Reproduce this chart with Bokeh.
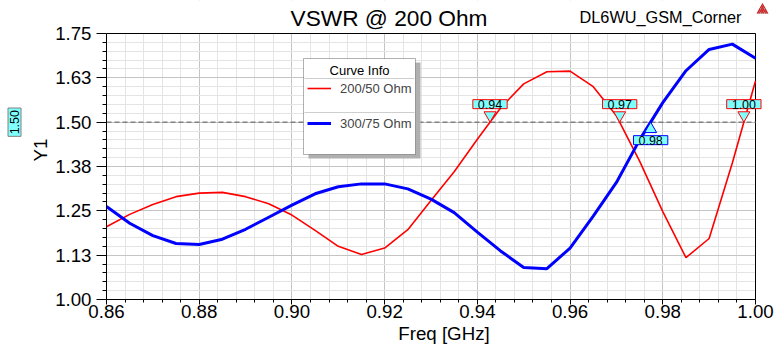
import math
from bokeh.plotting import figure
from bokeh.models import (FixedTicker, Label, Legend, LegendItem, BoxAnnotation)
from bokeh.embed import file_html
from bokeh.resources import INLINE

# ---------------- data ----------------
freq = [0.860, 0.865, 0.870, 0.875, 0.880, 0.885, 0.890, 0.895, 0.900, 0.905,
        0.910, 0.915, 0.920, 0.925, 0.930, 0.935, 0.940, 0.945, 0.950, 0.955,
        0.960, 0.965, 0.970, 0.975, 0.980, 0.985, 0.990, 0.995, 1.000]
vswr_200_50 = [1.205, 1.240, 1.268, 1.290, 1.300, 1.302, 1.290, 1.270, 1.238, 1.195,
               1.150, 1.127, 1.145, 1.197, 1.279, 1.360, 1.452, 1.540, 1.608, 1.642,
               1.644, 1.600, 1.518, 1.390, 1.248, 1.118, 1.172, 1.385, 1.616]
vswr_300_75 = [1.262, 1.215, 1.180, 1.158, 1.155, 1.170, 1.198, 1.232, 1.266, 1.298,
               1.318, 1.326, 1.326, 1.312, 1.283, 1.245, 1.190, 1.137, 1.090, 1.087,
               1.145, 1.235, 1.330, 1.450, 1.555, 1.645, 1.705, 1.720, 1.680]
series_names = ["200/50 Ohm", "300/75 Ohm"]
series_colors = ["#ff0000", "#0000ff"]
ref_level = 1.50

x_ticks = [0.86, 0.88, 0.90, 0.92, 0.94, 0.96, 0.98, 1.00]
x_tick_labels = ["0.86", "0.88", "0.90", "0.92", "0.94", "0.96", "0.98", "1.00"]
y_ticks = [1.0, 1.125, 1.25, 1.375, 1.5, 1.625, 1.75]
y_tick_labels = ["1.00", "1.13", "1.25", "1.38", "1.50", "1.63", "1.75"]

title_text = "VSWR @ 200 Ohm"
design_text = "DL6WU_GSM_Corner"
x_label = "Freq [GHz]"
y_label = "Y1"
legend_title = "Curve Info"

FONT = "Liberation Sans"
CYAN = "#80ffff"

# ---------------- layout (canvas pixels) ----------------
W, H = 781, 350
FL, FR, FT, FB = 106, 755, 33, 299          # visible plot box
x0, x1 = x_ticks[0], x_ticks[-1]
y0, y1 = y_ticks[0], y_ticks[-1]
px_per_x = (FR - FL) / (x1 - x0)
px_per_y = (FB - FT) / (y1 - y0)

def data_x(px):
    return x0 + (px - FL) / px_per_x

def data_y(py):
    return y0 + (FB - py) / px_per_y

# the Bokeh frame covers everything right of / above the axes, so texts
# placed outside the visible plot box are not clipped
fig = figure(width=W, height=H, output_backend="svg", toolbar_location=None,
             x_range=(x0, data_x(W)), y_range=(y0, data_y(0)),
             min_border_left=FL, min_border_right=0, min_border_top=0,
             min_border_bottom=H - FB)
fig.background_fill_color = "white"
fig.border_fill_color = "white"
fig.outline_line_color = None

x_minor = [round(x0 + 0.004 * i, 4) for i in range(36)]
y_minor = [round(y0 + 0.025 * i, 4) for i in range(31)]
fig.xaxis.ticker = FixedTicker(ticks=x_ticks, minor_ticks=x_minor)
fig.yaxis.ticker = FixedTicker(ticks=y_ticks, minor_ticks=y_minor)
fig.xaxis.major_label_overrides = {t: s for t, s in zip(x_ticks, x_tick_labels)}
fig.yaxis.major_label_overrides = {t: s for t, s in zip(y_ticks, y_tick_labels)}
fig.xaxis.bounds = (x0, x1)
fig.yaxis.bounds = (y0, y1)

for ax in (fig.xaxis, fig.yaxis):
    ax.axis_line_color = "black"
    ax.major_tick_line_color = "black"
    ax.minor_tick_line_color = "black"
    ax.major_tick_in = 0
    ax.minor_tick_in = 0
    ax.major_label_text_font = FONT
    ax.major_label_text_font_size = "18.7px"
    ax.major_label_text_color = "black"
    ax.axis_label_text_font = FONT
    ax.axis_label_text_font_size = "18.7px"
    ax.axis_label_text_font_style = "normal"
    ax.axis_label_text_color = "black"

fig.xaxis.axis_label = x_label
fig.yaxis.axis_label = y_label
fig.xaxis.major_tick_out = 5
fig.xaxis.minor_tick_out = 3
fig.xaxis.major_label_standoff = 0
fig.xaxis.axis_label_standoff = 2
fig.yaxis.major_tick_out = 10
fig.yaxis.minor_tick_out = 4
fig.yaxis.major_label_standoff = 5
fig.yaxis.axis_label_standoff = 1

for g in (fig.xgrid, fig.ygrid):
    g.grid_line_color = "#c4c4c4"
    g.grid_line_width = 1
    g.minor_grid_line_color = "#e4e4e4"
    g.minor_grid_line_width = 1

# blank out grid lines outside the plot box
fig.add_layout(BoxAnnotation(bottom=y1, fill_color="white", fill_alpha=1,
                             line_color=None, level="underlay"))
fig.add_layout(BoxAnnotation(left=x1, fill_color="white", fill_alpha=1,
                             line_color=None, level="underlay"))

# plot box top / right border and the reference level
fig.segment(x0=[x0, x1], y0=[y1, y0], x1=[x1, x1], y1=[y1, y1], line_color="black", line_width=1)
fig.segment(x0=[x0], y0=[ref_level], x1=[x1], y1=[ref_level], line_color="#808080",
            line_width=1.5, line_dash="5 3")

r1 = fig.line(freq, vswr_200_50, line_color=series_colors[0], line_width=1.6)
r2 = fig.line(freq, vswr_300_75, line_color=series_colors[1], line_width=3)

# ---------------- legend ("Curve Info" box) ----------------
LEG_L, LEG_T, LEG_W, LEG_H = 303, 58, 112, 96
ROW1, ROW2 = 20, 54                       # separator rows below the box top
fig.add_layout(BoxAnnotation(left=data_x(LEG_L + 5), right=data_x(LEG_L + LEG_W + 5),
                             top=data_y(LEG_T + 4), bottom=data_y(LEG_T + LEG_H + 4),
                             fill_color="#b0b0b0", fill_alpha=1, line_color=None))
fig.add_layout(BoxAnnotation(left=data_x(LEG_L), right=data_x(LEG_L + LEG_W),
                             top=data_y(LEG_T), bottom=data_y(LEG_T + LEG_H),
                             fill_color="white", fill_alpha=1, line_color="black", line_width=1))
for sep in (ROW1, ROW2):
    fig.add_layout(BoxAnnotation(left=data_x(LEG_L + 1), right=data_x(LEG_L + LEG_W - 1),
                                 top=data_y(LEG_T + sep), bottom=data_y(LEG_T + sep),
                                 fill_alpha=0, line_color="#a0a0a0", line_width=1))
fig.add_layout(Label(x=data_x(LEG_L + LEG_W / 2), y=data_y(LEG_T + 12), text=legend_title,
                     text_align="center", text_baseline="middle", text_font=FONT,
                     text_font_size="13px", text_color="black"))

ITEM_H, ITEM_GAP = 20, 15
legend = Legend(items=[LegendItem(label=series_names[0], renderers=[r1]),
                       LegendItem(label=series_names[1], renderers=[r2])],
                location=(LEG_L + 4 - FL, FB - (LEG_T + ROW1 + 2 * ITEM_H + ITEM_GAP)))
legend.label_text_font = FONT
legend.label_text_font_size = "13px"
legend.padding = 0
legend.margin = 0
legend.spacing = ITEM_GAP
legend.label_height = ITEM_H
legend.glyph_height = ITEM_H
legend.glyph_width = 24
legend.label_standoff = 9
legend.border_line_color = None
legend.background_fill_alpha = 0
fig.add_layout(legend)

# ---------------- crossing markers computed from the data ----------------
def crossings(xs, ys, level):
    out = []
    for i in range(len(xs) - 1):
        ya, yb = ys[i], ys[i + 1]
        if (ya - level) * (yb - level) < 0:
            t = (level - ya) / (yb - ya)
            out.append(xs[i] + t * (xs[i + 1] - xs[i]))
    return out

tri_size = 12
tri_dy = (tri_size / 2 * math.sqrt(3) * 2 / 3) / px_per_y
for ys, col, below in ((vswr_200_50, series_colors[0], False),
                       (vswr_300_75, series_colors[1], True)):
    for xc in crossings(freq, ys, ref_level):
        if below:
            fig.scatter([xc], [ref_level - tri_dy], marker="triangle", size=tri_size,
                        fill_color=CYAN, line_color=col, line_width=1)
        else:
            fig.scatter([xc], [ref_level + tri_dy], marker="inverted_triangle", size=tri_size,
                        fill_color=CYAN, line_color=col, line_width=1)
        fig.add_layout(Label(x=xc, y=ref_level, y_offset=(-18 if below else 18),
                             text=f"{xc:.2f}", text_align="center", text_baseline="middle",
                             text_font=FONT, text_font_size="12.5px", text_color="black",
                             background_fill_color=CYAN, border_line_color=col,
                             border_line_width=1, padding=(5, 0)))

# reference-level tag left of the y axis (side panel, so it is not clipped)
fig.add_layout(Label(x=x0, y=ref_level, x_offset=-92, angle=math.pi / 2,
                     text=f"{ref_level:.2f}", text_align="center", text_baseline="middle",
                     text_font=FONT, text_font_size="12.5px", text_color="black",
                     background_fill_color=CYAN, border_line_color="#808080",
                     border_line_width=1, padding=(2, 2)), "left")

# ---------------- titles and logo ----------------
fig.add_layout(Label(x=data_x(290), y=data_y(17), text=title_text, text_align="left",
                     text_baseline="middle", text_font=FONT,
                     text_font_size="22.7px", text_color="black"))
fig.add_layout(Label(x=data_x(741), y=data_y(16.5), text=design_text, text_align="right",
                     text_baseline="middle", text_font=FONT,
                     text_font_size="16.3px", text_color="black"))
fig.scatter([data_x(762)], [data_y(9.5)], marker="triangle", size=12, fill_color="#9a9a9a",
            line_color=None, hatch_pattern="/", hatch_color="#e02020",
            hatch_scale=4, hatch_weight=1.5)

p = fig
open("out.html", "w").write(file_html(p, INLINE))
